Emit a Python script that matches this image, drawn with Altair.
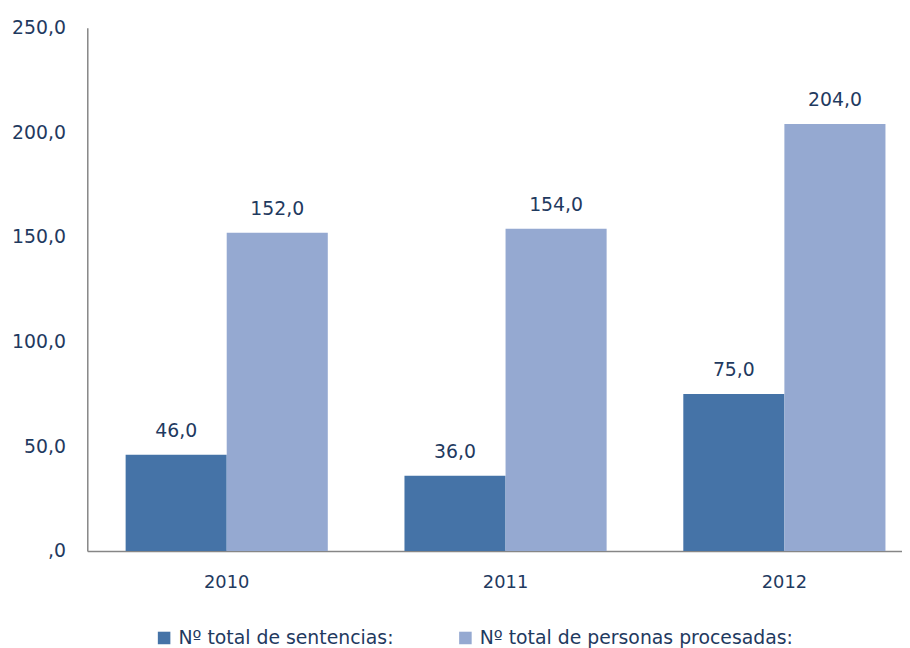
import altair as alt
import pandas as pd

years = ["2010", "2011", "2012"]
sentencias = [46.0, 36.0, 75.0]
procesadas = [152.0, 154.0, 204.0]
series = ["Nº total de sentencias:", "Nº total de personas procesadas:"]
colors = ["#4573A7", "#95A9D1"]

rows = []
for i, y in enumerate(years):
    rows.append({"year": y, "series": series[0], "value": sentencias[i]})
    rows.append({"year": y, "series": series[1], "value": procesadas[i]})
df = pd.DataFrame(rows)

FONT = "DejaVu Sans"
TXT = "#1F3A5F"

base = alt.Chart(df).transform_calculate(
    label="replace(format(datum.value, '.1f'), '.', ',')"
).encode(
    x=alt.X("year:N", sort=years,
            scale=alt.Scale(paddingInner=0.275, paddingOuter=0.1375),
            axis=alt.Axis(title=None, labelAngle=0, ticks=False, labelPadding=23,
                          domainColor="#868686", domainWidth=1.5,
                          labelFont=FONT, labelFontSize=18, labelColor=TXT)),
    xOffset=alt.XOffset("series:N", sort=series,
                        scale=alt.Scale(paddingInner=0, paddingOuter=0)),
    y=alt.Y("value:Q", scale=alt.Scale(domain=[0, 250], nice=False),
            axis=alt.Axis(title=None, values=[0, 50, 100, 150, 200, 250], ticks=False,
                          grid=False, labelPadding=22, domainColor="#868686", domainWidth=1.5,
                          labelExpr="datum.value == 0 ? ',0' : replace(format(datum.value, '.1f'), '.', ',')",
                          labelFont=FONT, labelFontSize=19, labelColor=TXT)),
)

bars = base.mark_bar().encode(
    color=alt.Color("series:N", sort=series,
                    scale=alt.Scale(domain=series, range=colors),
                    legend=alt.Legend(title=None, orient="none", legendX=68, legendY=606,
                                      direction="horizontal", columns=2, columnPadding=63,
                                      symbolType="square", symbolSize=160, symbolStrokeWidth=0,
                                      labelFont=FONT, labelFontSize=19, labelColor=TXT,
                                      labelLimit=400, labelOffset=5))
)

text = base.mark_text(dy=-24, baseline="middle", font=FONT, fontSize=19, color=TXT).encode(
    text="label:N"
)

chart = (bars + text).properties(
    width=844, height=528,
    padding={"left": 80, "top": 17, "right": -22, "bottom": 95},
    autosize=alt.AutoSizeParams(type="none"),
).configure_view(stroke=None)

chart.save("out.html", embed_options={"renderer": "svg", "actions": False})
